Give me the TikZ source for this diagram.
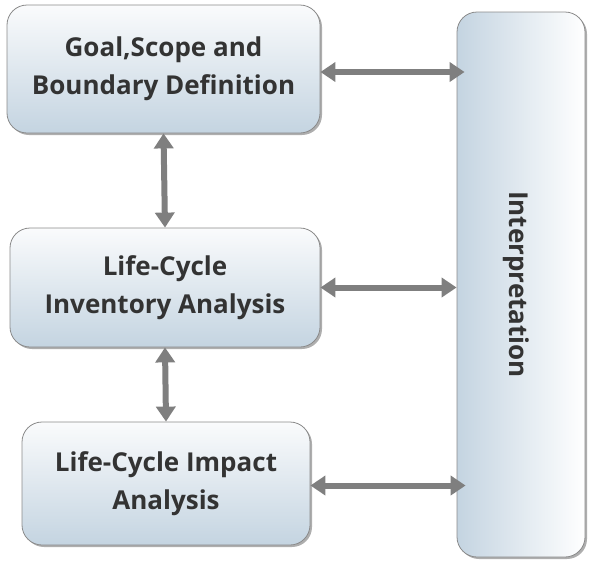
\documentclass[tikz,border=0pt]{standalone}
\usepackage{fontspec}
\setmainfont{Open Sans}
\usetikzlibrary{arrows.meta,shadows}
\definecolor{boxbot}{HTML}{C4D4E1}
\definecolor{boxtop}{HTML}{FAFBFC}
\definecolor{edge}{HTML}{8A8A8A}
\definecolor{txt}{HTML}{333333}
\definecolor{arr}{HTML}{7F7F7F}
\tikzset{
  lbl/.style={font=\fontsize{26}{38}\selectfont\bfseries, text=txt},
  box/.style={draw=edge, line width=0.8pt, rounded corners=20pt, align=center,
    top color=boxtop, bottom color=boxbot, lbl,
    drop shadow={shadow xshift=2pt, shadow yshift=-2pt, opacity=0.45, fill=black!70}},
  ibox/.style={draw=edge, line width=0.8pt, rounded corners=20pt,
    left color=boxbot, right color=white,
    drop shadow={shadow xshift=2pt, shadow yshift=-2pt, opacity=0.45, fill=black!70}},
  darrow/.style={draw=arr, line width=6pt,
    {Triangle[width=19pt,length=15pt]}-{Triangle[width=19pt,length=15pt]}}
}
\begin{document}
\begin{tikzpicture}[x=1pt,y=1pt]
\useasboundingbox (0,0) rectangle (589,-568);
\node[box, minimum width=313pt, minimum height=128pt] (b1) at (163.5,-69) {Goal,Scope and\\Boundary Definition};
\node[box, minimum width=310pt, minimum height=119pt] (b2) at (165,-287.5) {Life-Cycle\\Inventory Analysis};
\node[box, minimum width=288pt, minimum height=123pt] (b3) at (166,-483.5) {Life-Cycle Impact\\Analysis};
\node[ibox, minimum width=128pt, minimum height=545pt] (ip) at (521,-284.5) {};
\node[lbl, rotate=-90] (iptxt) at ([xshift=-5pt]ip.center) {Interpretation};
\coordinate (t1) at ([xshift=8pt,yshift=-3pt]b1.east -| ip.west);
\coordinate (t2) at (b2.east -| ip.west);
\coordinate (t3) at ([xshift=9pt,yshift=-2pt]b3.east -| ip.west);
\draw[darrow] ([yshift=-3pt]b1.east) -- (t1);
\draw[darrow] (b2.east) -- (t2);
\draw[darrow] ([yshift=-2pt]b3.east) -- (t3);
\draw[darrow] (b1.south) -- (b2.north);
\draw[darrow] (b2.south) -- (b3.north);
\end{tikzpicture}
\end{document}
